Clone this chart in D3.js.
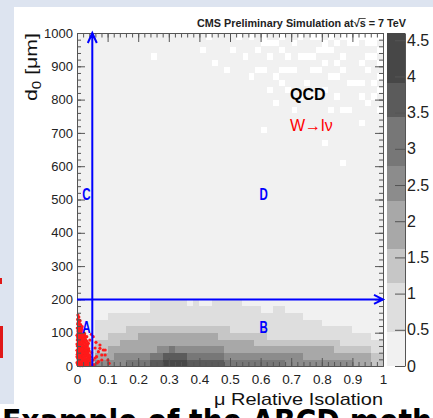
<!DOCTYPE html>
<html>
<head>
<meta charset="utf-8">
<script src="https://cdn.jsdelivr.net/npm/d3@7"></script>
<style>
body { margin: 0; background: #fff; }
svg { display: block; }
</style>
</head>
<body>
<div id="chart"></div>
<script>
"use strict";
(function() {

const WIDTH = 433
const HEIGHT = 418
const margin = { top: 33, bottom: 52, left: 77, right: 50 }
const FONT = '"Liberation Sans", Arial, Helvetica, sans-serif'
const AXIS_COLOR = '#555'
const BLUE = '#0000ff'

// axis ticks + labels
const xTicks = [0, 0.1, 0.2, 0.3, 0.4, 0.5, 0.6, 0.7, 0.8, 0.9, 1]
const xTickLabels = ["0", "0.1", "0.2", "0.3", "0.4", "0.5", "0.6", "0.7", "0.8", "0.9", "1"]
const yTicks = [0, 100, 200, 300, 400, 500, 600, 700, 800, 900, 1000]
const yTickLabels = ["0", "100", "200", "300", "400", "500", "600", "700", "800", "900", "1000"]
const zTicks = [0, 0.5, 1, 1.5, 2, 2.5, 3, 3.5, 4, 4.5]
const zTickLabels = ["0", "0.5", "1", "1.5", "2", "2.5", "3", "3.5", "4", "4.5"]

// palette bands (levels 1..8)
const bandEdges = [0, 0.47, 1.15, 1.61, 2.28, 2.76, 3.44, 3.91, 4.6]
const bandColors = ["#f1f1f1", "#dedede", "#c6c6c6", "#a8a8a8", "#8c8c8c", "#777777", "#5b5b5b", "#474747"]

// QCD histogram, 50x50 bins. rows j=0.. (20 um each) as runs of [level, nbins]
// rows above the last one are level 1, except the empty bins
const binRows = [
    [[3,3],[5,5],[6,4],[7,2],[8,4],[7,6],[6,10],[5,11],[4,3],[3,2]],
    [[2,3],[4,3],[5,6],[6,2],[7,4],[6,6],[5,13],[4,11],[3,2]],
    [[2,3],[3,2],[4,8],[5,2],[6,1],[5,8],[4,18],[3,6],[2,2]],
    [[2,3],[3,4],[4,22],[3,14],[2,7]],
    [[1,3],[2,2],[3,5],[4,13],[3,8],[2,17],[1,2]],
    [[1,3],[2,5],[3,17],[2,5],[3,1],[2,14],[1,5]],
    [[1,3],[2,37],[1,10]],
    [[1,5],[2,32],[1,13]],
    [[1,12],[2,18],[1,2],[2,2],[1,16]],
    [[1,12],[2,6],[1,1],[2,1],[1,2],[2,5],[1,23]]
]
const emptyBins = [
    [12,46],[22,45],[25,47],[29,44],[30,44],[31,46],[30,35],[32,43],[33,44],[34,44],
    [35,44],[33,42],[30,48],[31,48],[32,48],[33,47],[36,46],[37,46],[39,47],[40,47],
    [42,45],[44,48],[45,48],[41,43],[42,43],[45,42],[46,42],[43,38],[44,38],[43,30],
    [48,40],[35,38],[28,49],[30,49],[33,49],[36,49],[38,49],[39,49],[41,49],[43,49],
    [44,49],[45,49],[46,49],[47,49],[48,49],[49,49],[35,48],[40,48],[42,48],[47,48],
    [48,48],[49,47],[48,46],[47,44],[49,43],[46,45],[38,44],[49,41],[21,49],[26,49],
    [20,47],[24,44],[27,46],[28,43],[34,41],[37,42],[38,40],[39,44],[40,41],[42,40],
    [44,42],[46,40],[47,39],[48,42],[49,38],[41,38],[46,36],[36,40],[32,39],[29,47],
    [34,46],[38,46],[43,46],[47,46],[40,45],[43,44],[41,47],[49,45],[31,41],[40,33]
]

// W -> l nu signal events [isolation, d0]
const wlnuPoints = [
    [0.003,4],[0.008,9],[0.015,3],[0.021,7],[0.027,2],[0.034,6],[0.005,2],[0.012,5],[0.018,1],[0.031,4],
    [0.039,9],[0.045,3],[0.004,15],[0.011,18],[0.018,13],[0.025,16],[0.031,12],[0.038,17],[0.024,10],[0.007,20],
    [0.043,12],[0.022,17],[0.002,24],[0.009,27],[0.014,22],[0.02,26],[0.028,21],[0.035,25],[0.016,28],[0.033,19],
    [0.04,24],[0.027,29],[0.006,33],[0.012,36],[0.019,31],[0.024,35],[0.03,30],[0.041,33],[0.001,35],[0.032,36],
    [0.003,42],[0.01,45],[0.016,40],[0.023,44],[0.029,39],[0.036,43],[0.009,48],[0.017,46],[0.005,51],[0.013,54],
    [0.02,49],[0.026,53],[0.033,48],[0.023,55],[0.038,52],[0.001,60],[0.008,63],[0.015,58],[0.022,62],[0.03,57],
    [0.011,64],[0.004,69],[0.011,72],[0.018,67],[0.025,71],[0.035,66],[0.018,74],[0.007,78],[0.013,81],[0.02,76],
    [0.028,80],[0.005,82],[0.002,87],[0.01,90],[0.016,85],[0.024,89],[0.027,88],[0.006,96],[0.013,99],[0.019,94],
    [0.021,99],[0.003,105],[0.009,108],[0.015,103],[0.011,112],[0.001,114],[0.007,118],[0.017,118],[0.012,124],[0.004,131],
    [0.002,140],[0.006,147],[0.003,153],[0.0,10],[0.0,28],[0.0,47],[0.0,66],[0.0,92],[0.001,78],[0.014,33],
    [0.009,38],[0.026,45],[0.019,56],[0.006,59],[0.03,15],[0.036,29],[0.042,20],[0.013,92],[0.022,83],[0.008,101],
    [0.016,110],[0.002,6],[0.01,1],[0.016,8],[0.023,3],[0.029,9],[0.036,2],[0.042,7],[0.006,12],[0.013,14],
    [0.02,11],[0.027,14],[0.034,12],[0.04,15],[0.004,19],[0.017,20],[0.029,18],[0.037,21],[0.011,24],[0.025,23],
    [0.044,27],[0.004,29],[0.021,31],[0.028,34],[0.036,37],[0.008,31],[0.015,37],[0.002,40],[0.007,44],[0.02,40],
    [0.026,38],[0.033,42],[0.04,45],[0.014,47],[0.029,47],[0.003,50],[0.01,53],[0.017,52],[0.031,53],[0.005,57],
    [0.013,60],[0.026,59],[0.034,60],[0.002,64],[0.009,68],[0.02,69],[0.029,66],[0.006,73],[0.015,76],[0.023,77],
    [0.032,74],[0.003,81],[0.01,84],[0.019,82],[0.008,92],[0.018,90],[0.003,97],[0.016,95],[0.025,97],[0.006,104],
    [0.012,107],[0.019,106],[0.004,112],[0.014,114],[0.009,122],[0.002,126],[0.007,130],[0.01,136],
    [0.053,88],[0.059,54],[0.075,63],[0.07,43],[0.081,33],[0.092,48],[0.064,28],[0.053,18],[0.07,13],[0.101,18],
    [0.059,24],[0.075,53],[0.086,48],[0.081,18],[0.092,33],[0.042,78],[0.047,95],[0.062,71],[0.105,8],[0.048,40],
    [0.056,4],[0.066,9],[0.032,88],[0.037,68],[0.015,98],[0.007,138]
]

// region labels [text, isolation, d0]
const regions = [["A", 0.031, 100], ["B", 0.61, 100], ["C", 0.031, 500], ["D", 0.61, 500]]
const CUT_ISO = 0.05
const CUT_D0 = 200

const svg = d3.select("#chart").append("svg")
    .attr("width", WIDTH)
    .attr("height", HEIGHT)
    .style("font-family", FONT)

// slide bits around the figure
svg.append("rect").attr("width", WIDTH).attr("height", HEIGHT).attr("fill", "#fff")
svg.append("rect").attr("width", WIDTH).attr("height", 7).attr("fill", "#dde4f0")
svg.append("rect").attr("width", 14).attr("height", 404).attr("fill", "#dde4f0")
svg.append("rect").attr("x", 0).attr("y", 326).attr("width", 3).attr("height", 32).attr("fill", "#e01818")
svg.append("rect").attr("x", 0).attr("y", 278).attr("width", 2).attr("height", 6).attr("fill", "#e01818")
svg.append("text").text("Example of the ABCD method")
    .attr("x", 2).attr("y", 432)
    .attr("font-family", '"DejaVu Sans", sans-serif')
    .attr("font-weight", "bold").attr("font-size", 32)
    .attr("textLength", 470).attr("lengthAdjust", "spacingAndGlyphs")
    .attr("fill", "#000")

const x = d3.scaleLinear().domain([0, 1]).range([margin.left, WIDTH - margin.right])
const y = d3.scaleLinear().domain([0, 1000]).range([HEIGHT - margin.bottom, margin.top])
const z = d3.scaleLinear().domain([0, 4.6]).range([HEIGHT - margin.bottom, margin.top])

// ---- histogram cells
const NX = 50, NY = 50
const DX = 1 / NX, DY = 1000 / NY
let cells = []
for (let j = 0; j < NY; j++) {
    let levels = []
    if (j < binRows.length) {
        binRows[j].forEach(([lv, n]) => { for (let k = 0; k < n; k++) levels.push(lv) })
    }
    for (let i = 0; i < NX; i++) {
        cells.push({ i: i, j: j, lv: j < binRows.length ? levels[i] : 1 })
    }
}
emptyBins.forEach(([i, j]) => { cells[j * NX + i].lv = 0 })

svg.append("g").attr("shape-rendering", "crispEdges")
    .selectAll("rect")
    .data(cells.filter(c => c.lv > 0))
    .join("rect")
    .attr("x", c => x(c.i * DX))
    .attr("y", c => y((c.j + 1) * DY))
    .attr("width", x(DX) - x(0) + 0.3)
    .attr("height", y(0) - y(DY) + 0.3)
    .attr("fill", c => bandColors[c.lv - 1])

// ---- signal points
svg.append("g").selectAll("circle")
    .data(wlnuPoints)
    .join("circle")
    .attr("cx", d => x(d[0]))
    .attr("cy", d => y(d[1]))
    .attr("r", 1.6)
    .attr("fill", "#ff1a1a")

// ---- axes
function styleAxis(g, size) {
    g.attr("font-family", FONT).attr("font-size", size)
    g.select(".domain").attr("stroke", AXIS_COLOR)
    g.selectAll(".tick line").attr("stroke", AXIS_COLOR)
    g.selectAll("text").attr("fill", "#222")
}
const xMinor = d3.range(0, 51).map(k => k / 50)
const yMinor = d3.range(0, 51).map(k => k * 20)
const bottom = HEIGHT - margin.bottom
const right = WIDTH - margin.right

svg.append("g").attr("transform", `translate(0,${bottom})`)
    .call(d3.axisBottom(x).tickValues(xMinor).tickFormat("").tickSize(-4).tickSizeOuter(0))
    .call(g => styleAxis(g, 13.5))
svg.append("g").attr("transform", `translate(0,${bottom})`)
    .call(d3.axisBottom(x).tickValues(xTicks).tickFormat((d, i) => xTickLabels[i])
        .tickSize(-8).tickSizeOuter(0).tickPadding(8))
    .call(g => styleAxis(g, 13.5))
svg.append("g").attr("transform", `translate(0,${margin.top})`)
    .call(d3.axisTop(x).tickValues(xMinor).tickFormat("").tickSize(-4.5).tickSizeOuter(0))
    .call(g => styleAxis(g, 13))
svg.append("g").attr("transform", `translate(0,${margin.top})`)
    .call(d3.axisTop(x).tickValues(xTicks).tickFormat("").tickSize(-9).tickSizeOuter(0))
    .call(g => styleAxis(g, 13))

svg.append("g").attr("transform", `translate(${margin.left},0)`)
    .call(d3.axisLeft(y).tickValues(yMinor).tickFormat("").tickSize(-4).tickSizeOuter(0))
    .call(g => styleAxis(g, 13))
svg.append("g").attr("transform", `translate(${margin.left},0)`)
    .call(d3.axisLeft(y).tickValues(yTicks).tickFormat((d, i) => yTickLabels[i])
        .tickSize(-8).tickSizeOuter(0).tickPadding(4))
    .call(g => styleAxis(g, 13))
svg.append("g").attr("transform", `translate(${right},0)`)
    .call(d3.axisRight(y).tickValues(yMinor).tickFormat("").tickSize(-4).tickSizeOuter(0))
    .call(g => styleAxis(g, 13))
svg.append("g").attr("transform", `translate(${right},0)`)
    .call(d3.axisRight(y).tickValues(yTicks).tickFormat("").tickSize(-8).tickSizeOuter(0))
    .call(g => styleAxis(g, 13))

// ---- colour bar
const CBAR_X0 = 386.5, CBAR_X1 = 405
svg.append("g").attr("shape-rendering", "crispEdges")
    .selectAll("rect")
    .data(bandColors)
    .join("rect")
    .attr("x", CBAR_X0)
    .attr("y", (c, i) => z(bandEdges[i + 1]))
    .attr("width", CBAR_X1 - CBAR_X0)
    .attr("height", (c, i) => z(bandEdges[i]) - z(bandEdges[i + 1]))
    .attr("fill", c => c)
svg.append("g").attr("transform", `translate(${CBAR_X1},0)`)
    .call(d3.axisRight(z).tickValues(zTicks).tickFormat((d, i) => zTickLabels[i])
        .tickSize(-10).tickSizeOuter(0).tickPadding(2))
    .call(g => styleAxis(g, 16))

// ---- ABCD cut lines with arrow heads
svg.append("path")
    .attr("d", `M${x(CUT_ISO)},${y(0)} V${y(1000)} M${x(CUT_ISO) - 4.5},${y(1000) + 10} L${x(CUT_ISO)},${y(1000)} L${x(CUT_ISO) + 4.5},${y(1000) + 10}`)
    .attr("fill", "none").attr("stroke", BLUE).attr("stroke-width", 2)
svg.append("path")
    .attr("d", `M${x(0)},${y(CUT_D0)} H${x(1)} M${x(1) - 9},${y(CUT_D0) - 4.5} L${x(1)},${y(CUT_D0)} L${x(1) - 9},${y(CUT_D0) + 4.5}`)
    .attr("fill", "none").attr("stroke", BLUE).attr("stroke-width", 2)

svg.append("g").selectAll("text")
    .data(regions)
    .join("text")
    .text(d => d[0])
    .attr("transform", d => `translate(${x(d[1])},${y(d[2])}) scale(0.72,1)`)
    .attr("text-anchor", "middle")
    .attr("font-weight", "bold").attr("font-size", 16)
    .attr("fill", BLUE)

// ---- texts
svg.append("text").text("QCD")
    .attr("x", 290).attr("y", 100)
    .attr("font-weight", "bold").attr("font-size", 16).attr("fill", "#000")
svg.append("text").text("W\u2192l\u03bd")
    .attr("x", 290).attr("y", 131)
    .attr("font-size", 16).attr("fill", "#ff0000")

let title = svg.append("text")
    .attr("x", 197).attr("y", 27)
    .attr("font-weight", "bold").attr("font-size", 10.5)
    .attr("textLength", 209).attr("lengthAdjust", "spacingAndGlyphs")
    .attr("fill", "#222")
title.text("CMS Preliminary Simulation at\u221as = 7 TeV")
let sIdx = "CMS Preliminary Simulation at\u221a".length
let sBox = title.node().getExtentOfChar(sIdx)
let rBox = title.node().getExtentOfChar(sIdx - 1)
svg.append("line")
    .attr("x1", rBox.x + rBox.width - 1).attr("x2", sBox.x + sBox.width)
    .attr("y1", sBox.y + 1.5).attr("y2", sBox.y + 1.5)
    .attr("stroke", "#222").attr("stroke-width", 0.8)

svg.append("text").text("\u03bc Relative Isolation")
    .attr("x", 383).attr("y", 405)
    .attr("text-anchor", "end")
    .attr("font-size", 17)
    .attr("textLength", 169).attr("lengthAdjust", "spacingAndGlyphs")
    .attr("fill", "#111")

let ytitle = svg.append("text")
    .attr("transform", `translate(36.5,${margin.top}) rotate(-90)`)
    .attr("text-anchor", "end")
    .attr("font-size", 17)
    .attr("textLength", 68).attr("lengthAdjust", "spacingAndGlyphs")
    .attr("fill", "#111")
ytitle.append("tspan").text("d")
ytitle.append("tspan").text("0").attr("font-size", 12).attr("dy", 4)
ytitle.append("tspan").text(" [\u03bcm]").attr("dy", -4)

})();
</script>
</body>
</html>
